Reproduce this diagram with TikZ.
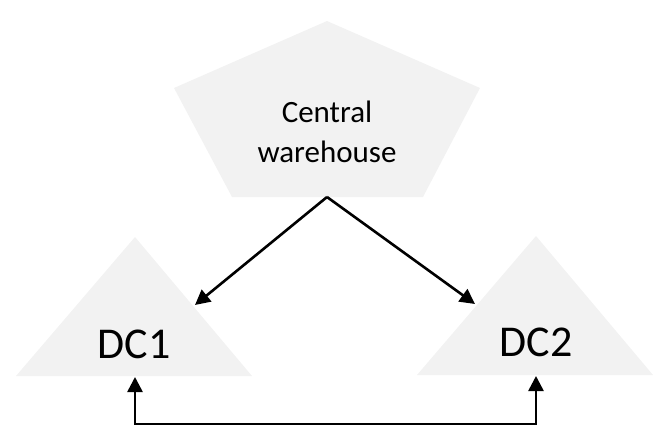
\documentclass[tikz,border=0pt]{standalone}
\usepackage{fontspec}
\setmainfont{Carlito}
\usepackage{xcolor}
\definecolor{shade}{HTML}{F2F2F2}
\definecolor{ink}{HTML}{000000}
\usetikzlibrary{arrows.meta}

\begin{document}
\begin{tikzpicture}[x=1pt,y=-1pt,
  site/.style={fill=shade},
  lab/.style={font=\fontsize{31}{40}\selectfont,align=center,text=ink},
  dclab/.style={font=\fontsize{44}{50}\selectfont,text=ink},
  arr/.style={-{Triangle[length=15pt,width=15pt]},line width=2.6pt,color=ink},
  biarr/.style={{Triangle[length=15pt,width=15pt]}-{Triangle[length=15pt,width=15pt]},line width=2.6pt,color=ink}]
\useasboundingbox (0,0) rectangle (653,434);
\fill[site] (327,21) -- (480,88) -- (423,197) -- (232,197) -- (174,88) -- cycle;
\fill[site] (135,237) -- (252,376) -- (16,376) -- cycle;
\fill[site] (536,236) -- (653,375) -- (417,375) -- cycle;
\node[lab] (cw) at (327,132) {Central\\warehouse};
\node[dclab] (dc1) at (134,344) {DC1};
\node[dclab] (dc2) at (536,342) {DC2};
\coordinate (split) at (327,197);
\coordinate (in1) at (195,305);
\coordinate (in2) at (475,304);
\coordinate (base1) at (135,377);
\coordinate (base2) at (536,376);
\draw[arr] (split) -- (in1);
\draw[arr] (split) -- (in2);
\draw[biarr] (base1) -- ++(0,47) -| (base2);
\end{tikzpicture}
\end{document}
